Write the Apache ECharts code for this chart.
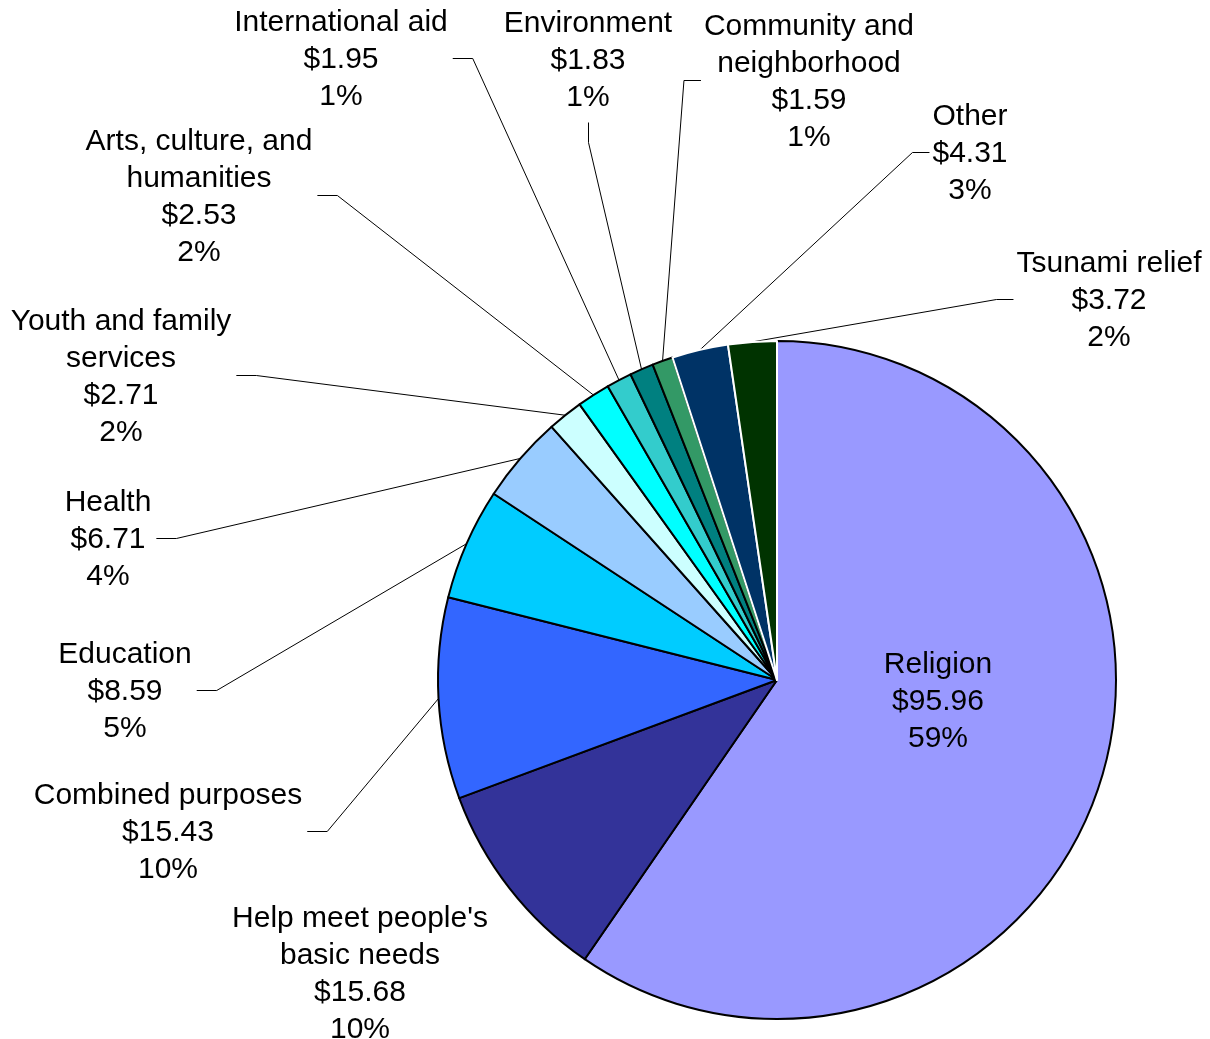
<!DOCTYPE html>
<html>
<head>
<meta charset="utf-8">
<script src="https://cdn.jsdelivr.net/npm/echarts@6/dist/echarts.min.js"></script>
<style>
html,body{margin:0;padding:0;background:#fff;}
#main{width:1210px;height:1039px;}
</style>
</head>
<body>
<div id="main"></div>
<script>
const categories = ['Religion', "Help meet people's\nbasic needs", 'Combined purposes', 'Education', 'Health',
  'Youth and family\nservices', 'Arts, culture, and\nhumanities', 'International aid', 'Environment',
  'Community and\nneighborhood', 'Other', 'Tsunami relief'];
const values = [95.96, 15.68, 15.43, 8.59, 6.71, 2.71, 2.53, 1.95, 1.83, 1.59, 4.31, 3.72];
const percents = [59, 10, 10, 5, 4, 2, 2, 1, 1, 1, 3, 2];
const colors = ['#9999FF', '#333399', '#3366FF', '#00CCFF', '#99CCFF', '#CCFFFF', '#00FFFF', '#33CCCC',
  '#008080', '#339966', '#003366', '#003300'];
const borderColors = ['#000', '#000', '#000', '#000', '#000', '#000', '#000', '#000', '#000', '#000', '#fff', '#fff'];
// label block centres and the side the leader line attaches to (style only)
const labelPos = [[938, 702, 'none'], [360, 974, 'none'], [168, 833, 'R'], [125, 692, 'R'], [108, 540, 'R'],
  [121, 377, 'R'], [199, 197, 'R'], [341, 60, 'R'], [588, 61, 'B'], [809, 82, 'L'], [970, 154, 'L'], [1109, 301, 'L']];

const chart = echarts.init(document.getElementById('main'), null, {renderer: 'canvas'});
const data = categories.map((name, i) => {
  const item = {
    name: name,
    value: values[i],
    itemStyle: {color: colors[i], borderColor: borderColors[i]}
  };
  if (i === 0) {
    item.label = {position: 'inner'};
    item.labelLine = {show: false};
  }
  if (i === 1) {
    item.labelLine = {show: false};
  }
  return item;
});

chart.setOption({
  animation: false,
  backgroundColor: '#fff',
  series: [{
    type: 'pie',
    center: [777, 680],
    radius: 339,
    startAngle: 90,
    clockwise: true,
    avoidLabelOverlap: false,
    data: data,
    itemStyle: {borderColor: '#000', borderWidth: 2},
    emphasis: {disabled: true},
    label: {
      show: true,
      position: 'outside',
      color: '#000',
      fontFamily: '"Liberation Sans", Arial, sans-serif',
      fontSize: 30,
      lineHeight: 37,
      align: 'center',
      formatter: function (p) {
        return p.name + '\n$' + p.value.toFixed(2) + '\n' + percents[p.dataIndex] + '%';
      }
    },
    labelLine: {
      show: true,
      length: 10,
      length2: 10,
      lineStyle: {color: '#000', width: 1}
    },
    labelLayout: function (p) {
      const lp = labelPos[p.dataIndex];
      const cx = lp[0], cy = lp[1], side = lp[2];
      const w = p.labelRect.width, h = p.labelRect.height;
      const res = {x: cx, y: cy, align: 'center', verticalAlign: 'middle'};
      if (side !== 'none' && p.labelLinePoints) {
        const start = p.labelLinePoints[0];
        let end, knee;
        if (side === 'R') {
          end = [cx + w / 2 + 5, cy - 1.5];
          knee = [end[0] + 20, cy - 1.5];
        } else if (side === 'L') {
          end = [cx - w / 2 - 3, cy - 1.5];
          knee = [end[0] - 17, cy - 1.5];
        } else {
          end = [cx + 0.5, cy + h / 2 + 6];
          knee = [cx + 0.5, end[1] + 20];
        }
        res.labelLinePoints = [start, knee, end];
      }
      return res;
    }
  }]
});
</script>
</body>
</html>
